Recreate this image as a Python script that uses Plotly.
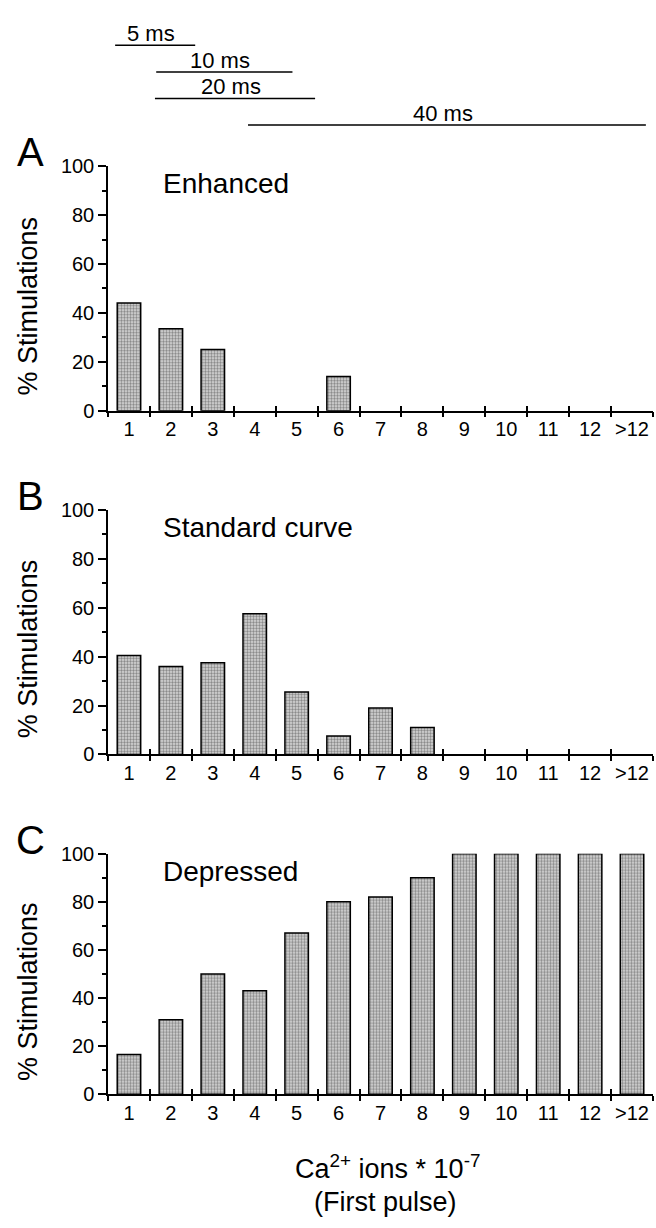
import plotly.graph_objects as go

# ---------------- data ----------------
categories = ["1", "2", "3", "4", "5", "6", "7", "8", "9", "10", "11", "12", ">12"]
enhanced = [44, 33.5, 25, 0, 0, 14, 0, 0, 0, 0, 0, 0, 0]
standard = [40.5, 36, 37.5, 57.5, 25.5, 7.5, 19, 11, 0, 0, 0, 0, 0]
depressed = [16.5, 31, 50, 43, 67, 80, 82, 90, 100, 100, 100, 100, 100]

panel_letters = ["A", "B", "C"]
panel_titles = ["Enhanced", "Standard curve", "Depressed"]
y_ticks = [0, 20, 40, 60, 80, 100]

pulse_labels = ["5 ms", "10 ms", "20 ms", "40 ms"]
pulse_start = [0.67, 1.65, 1.62, 3.84]   # in category units
pulse_end = [2.58, 4.90, 5.44, 13.33]
pulse_row = [0, 1, 2, 3]

# ---------------- layout helpers ----------------
W, H = 656, 1228
FONT = "Liberation Sans, Arial, Helvetica, sans-serif"


def fx(px):
    return px / W


def fy(py):
    return 1 - py / H


x_dom = [fx(108), fx(653)]
# (pixel of y=100, pixel of y=0) for each panel
panel_px = [(158, 407), (508, 757), (858, 1103)]
ytitle_px = [301, 650, 999]

positions = list(range(1, len(categories) + 1))
boundaries = [p - 0.5 for p in positions] + [positions[-1] + 0.5]
xr = [0.5, len(categories) + 0.5]

fig = go.Figure()
series = [enhanced, standard, depressed]

layout = dict(
    width=W, height=H,
    margin=dict(l=0, r=0, t=0, b=0),
    paper_bgcolor="white", plot_bgcolor="white",
    showlegend=False,
    font=dict(family=FONT, color="black"),
)
annotations = []

for i, vals in enumerate(series):
    n = i + 1
    xa = "x" if n == 1 else f"x{n}"
    ya = "y" if n == 1 else f"y{n}"
    xo = f"x{n + 3}"
    fig.add_trace(go.Bar(
        x=positions, y=vals, width=0.56,
        xaxis=xa, yaxis=ya,
        marker=dict(
            color="#d9d9d9",
            line=dict(color="black", width=[1.5 if v > 0 else 0 for v in vals]),
            pattern=dict(shape=".", fgcolor="#333333", bgcolor="#dcdcdc",
                         size=3, solidity=0.5),
        ),
        cliponaxis=False,
        hoverinfo="skip",
    ))
    # dummy trace for overlay axis (inside ticks)
    fig.add_trace(go.Scatter(x=[1], y=[0], xaxis=xo, yaxis=ya,
                             mode="markers", marker=dict(opacity=0),
                             hoverinfo="skip"))
    y100, y0 = panel_px[i]
    key_x = "xaxis" if n == 1 else f"xaxis{n}"
    key_y = "yaxis" if n == 1 else f"yaxis{n}"
    layout[key_x] = dict(
        domain=x_dom, anchor=ya, range=xr, type="linear",
        tickmode="array", tickvals=positions, ticktext=categories,
        ticks="", showline=True, linecolor="black", linewidth=1.5,
        showgrid=False, zeroline=False,
        tickfont=dict(size=20, family=FONT, color="black"),
        minor=dict(tickmode="array", tickvals=boundaries, ticks="outside",
                   ticklen=5, tickwidth=1.5, tickcolor="black", showgrid=False),
        fixedrange=True,
    )
    layout[f"xaxis{n + 3}"] = dict(
        domain=x_dom, anchor=ya, overlaying=xa, range=xr, type="linear",
        tickmode="array", tickvals=boundaries, ticks="inside", ticklen=5,
        tickwidth=1.5, tickcolor="black", showticklabels=False,
        showline=False, showgrid=False, zeroline=False, fixedrange=True,
    )
    layout[key_y] = dict(
        domain=[fy(y0), fy(y100)], anchor=xa, range=[0, 100],
        tickmode="array", tickvals=y_ticks, ticks="outside", ticklen=8,
        tickwidth=1.5, tickcolor="black",
        minor=dict(tickmode="linear", tick0=0, dtick=10, ticks="outside",
                   ticklen=4, tickwidth=1.5, tickcolor="black", showgrid=False),
        showline=True, linecolor="black", linewidth=1.5,
        showgrid=False, zeroline=False,
        tickfont=dict(size=20, family=FONT, color="black"),
        fixedrange=True,
    )
    # panel letter
    annotations.append(dict(
        text=panel_letters[i], xref="paper", yref="paper",
        x=fx(30), y=fy(y100 - 14), xanchor="center", yanchor="middle",
        showarrow=False, font=dict(size=40, family=FONT, color="black"),
    ))
    # panel title
    annotations.append(dict(
        text=panel_titles[i], xref="paper", yref="paper",
        x=fx(161), y=fy(y100 + 18), xanchor="left", yanchor="middle",
        showarrow=False, font=dict(size=28, family=FONT, color="black"),
    ))
    # y title
    annotations.append(dict(
        text="% Stimulations", xref="paper", yref="paper",
        x=fx(28), y=fy(ytitle_px[i]), xanchor="center", yanchor="middle",
        textangle=-90, showarrow=False,
        font=dict(size=27, family=FONT, color="black"),
    ))

# top pulse-duration bars
for lab, s, e, r in zip(pulse_labels, pulse_start, pulse_end, pulse_row):
    fig.add_trace(go.Scatter(
        x=[s, e], y=[r, r], xaxis="x7", yaxis="y7", mode="lines",
        line=dict(color="black", width=1.5), hoverinfo="skip",
    ))
    annotations.append(dict(
        text=lab, xref="x7", yref="y7", x=(s + e) / 2, y=r,
        xanchor="center", yanchor="bottom", xshift=-4, yshift=-3,
        showarrow=False, font=dict(size=22, family=FONT, color="black"),
    ))

layout["xaxis7"] = dict(domain=x_dom, anchor="y7", range=xr, visible=False,
                        fixedrange=True)
layout["yaxis7"] = dict(domain=[fy(129.5), fy(21.5)], anchor="x7",
                        range=[3.5, -0.5], visible=False, fixedrange=True)

# x-axis title
annotations.append(dict(
    text="Ca<sup>2+</sup> ions * 10<sup>-7</sup>", xref="paper", yref="paper",
    x=fx(387), y=fy(1177), xanchor="center", yanchor="middle",
    showarrow=False, font=dict(size=27, family=FONT, color="black"),
))
annotations.append(dict(
    text="(First pulse)", xref="paper", yref="paper",
    x=fx(385), y=fy(1213), xanchor="center", yanchor="middle",
    showarrow=False, font=dict(size=27, family=FONT, color="black"),
))

layout["annotations"] = annotations
fig.update_layout(**layout)
fig.write_html("out.html")
